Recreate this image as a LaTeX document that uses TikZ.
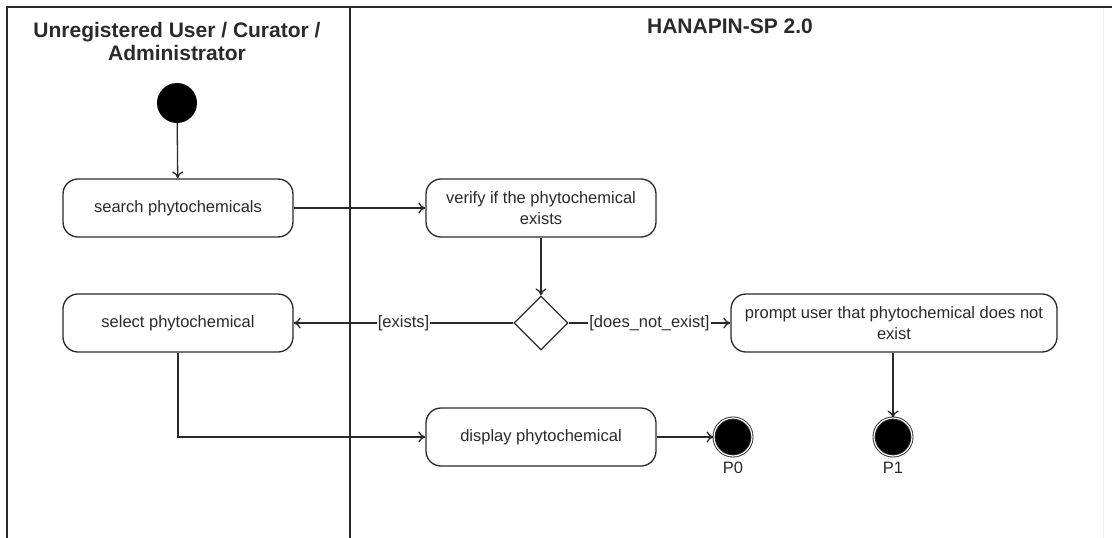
\documentclass[tikz,border=0pt]{standalone}
\usepackage{fontspec}
\setmainfont{Liberation Sans}
\usetikzlibrary{arrows.meta,shapes.geometric}
\definecolor{ink}{HTML}{2A2A2A}
\begin{document}
\begin{tikzpicture}[x=1pt,y=-1pt,
  every node/.style={text=ink},
  lane/.style={draw=ink,line width=1.4pt},
  title/.style={font=\fontsize{21}{23}\selectfont\bfseries,align=center},
  action/.style={draw=ink,line width=1.3pt,rounded corners=15pt,fill=white,
    minimum width=230pt,minimum height=58pt,align=center,inner sep=2pt,
    font=\fontsize{16.5}{21}\selectfont},
  decision/.style={draw=ink,line width=1.2pt,diamond,fill=white,
    minimum width=54pt,minimum height=54pt,inner sep=0pt},
  startnode/.style={circle,fill=black,minimum size=40pt,inner sep=0pt},
  endnode/.style={circle,draw=ink,line width=0.9pt,fill=black,minimum size=38pt,
    inner sep=0pt,double=white,double distance=1.2pt},
  flow/.style={draw=ink,line width=1.3pt,-{To[length=7pt,width=11pt]}},
  guard/.style={fill=white,inner sep=1pt,font=\fontsize{16.5}{18}\selectfont},
  tag/.style={font=\fontsize{16.5}{18}\selectfont}]
\useasboundingbox (0,0) rectangle (1112,538);

% swimlane frame
\draw[lane] (7,538) -- (7,7) -- (1112,7);
\draw[lane] (350,7) -- (350,538);
\draw[gray!12,line width=1pt] (1103,8) -- (1103,538);
\node[title] (laneA) at (177,41.5) {Unregistered User / Curator /\\Administrator};
\node[title] (laneB) at (730,26) {HANAPIN-SP 2.0};

% activity nodes
\node[startnode] (init) at (177,103) {};
\node[action] (search) at (178,208) {search phytochemicals};
\node[action] (verify) at (541,208) {verify if the phytochemical\\exists};
\node[decision] (check) at (541,323) {};
\node[action] (select) at (178,323) {select phytochemical};
\node[action,minimum width=326pt] (prompt) at (894,323) {prompt user that phytochemical does not\\exist};
\node[action] (display) at (541,437) {display phytochemical};
\node[endnode] (p0) at (733,437) {};
\node[endnode] (p1) at (893,437) {};
\node[tag] (p0lbl) at (733,468) {P0};
\node[tag] (p1lbl) at (893,468) {P1};

% control flow
\draw[flow] (init) -- (search);
\draw[flow] (search) -- (verify);
\draw[flow] (verify) -- (check);
\draw[flow] (check) -- node[guard,pos=0.5] {[exists]} (select);
\draw[flow] (check) -- node[guard,pos=0.5] {[does\_not\_exist]} (prompt);
\draw[flow] (select.south) |- (display.west);
\draw[flow] (display) -- (p0);
\draw[flow] (prompt.south -| p1) -- (p1);
\end{tikzpicture}
\end{document}
